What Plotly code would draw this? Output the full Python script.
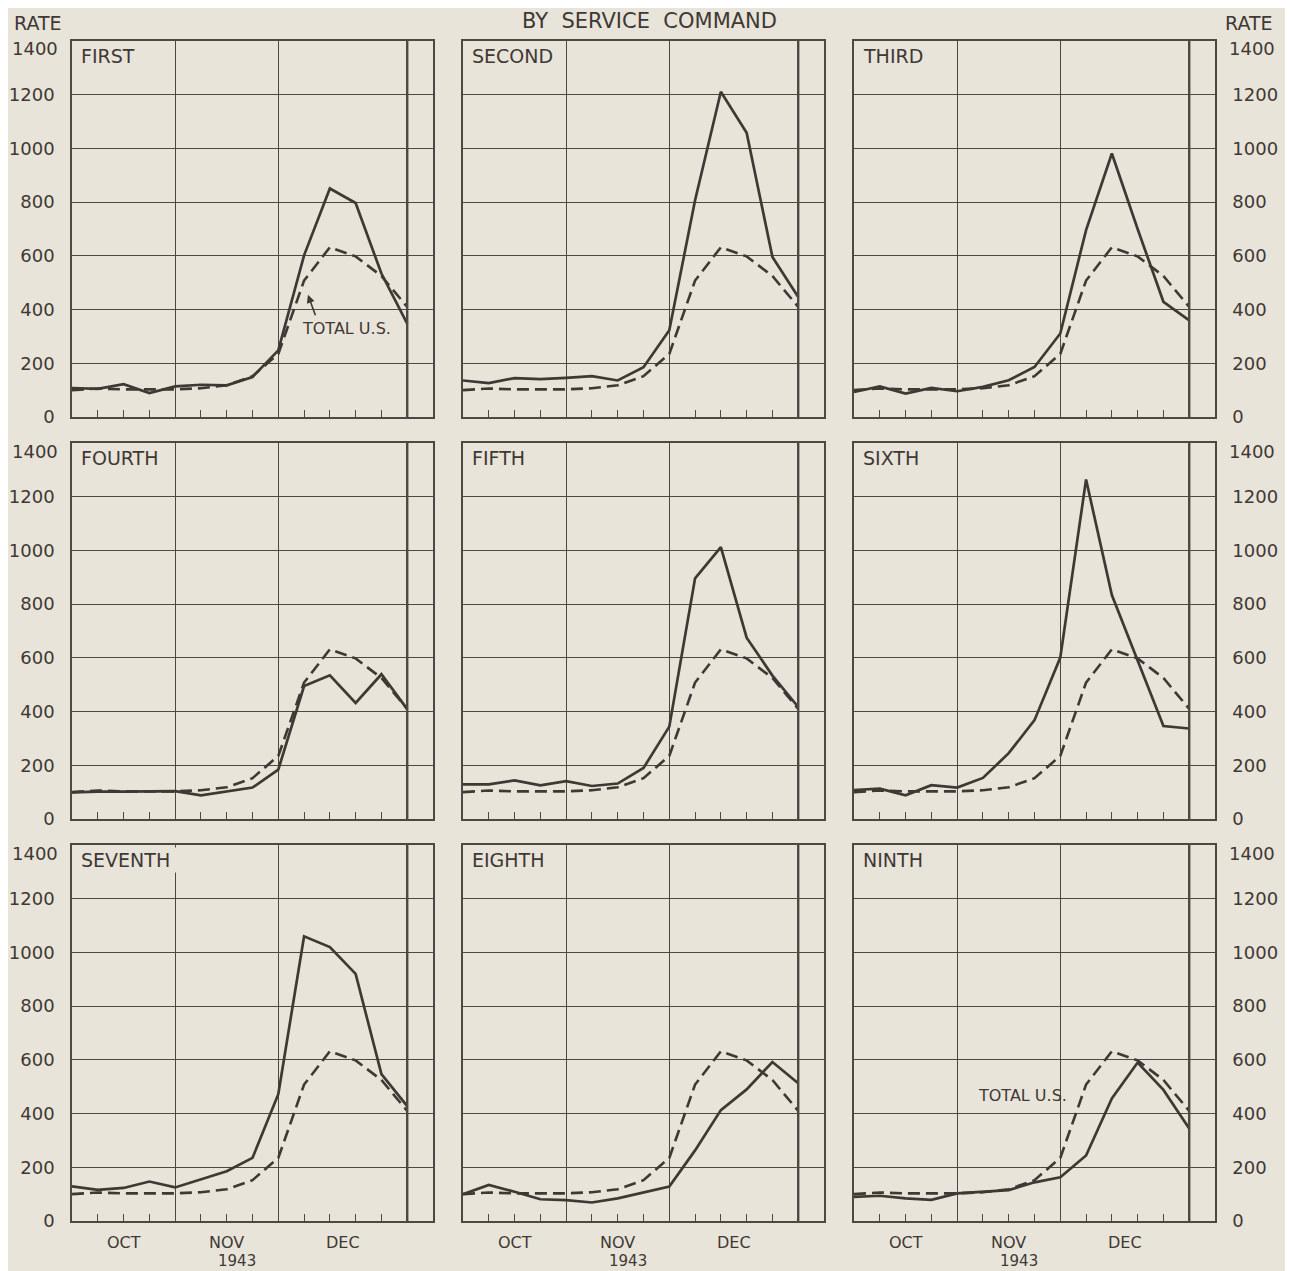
import plotly.graph_objects as go

# ---------------- data ----------------
weeks = list(range(14))
commands = ["FIRST", "SECOND", "THIRD", "FOURTH", "FIFTH", "SIXTH",
            "SEVENTH", "EIGHTH", "NINTH"]

total_us = [100, 106, 103, 103, 103, 107, 118, 152, 235, 508, 632, 598, 525, 410]

first = [108, 105, 122, 89, 114, 120, 118, 149, 248, 602, 851, 797, 534, 348]
second = [136, 126, 145, 141, 146, 152, 136, 185, 323, 807, 1211, 1058, 596, 447]
third = [93, 114, 87, 108, 96, 112, 137, 186, 311, 696, 981, 700, 429, 360]
fourth = [99, 102, 102, 102, 104, 88, 102, 117, 184, 495, 535, 432, 539, 409]
fifth = [129, 129, 144, 125, 141, 123, 132, 190, 344, 896, 1012, 675, 534, 417]
sixth = [108, 113, 88, 126, 117, 153, 245, 368, 601, 1264, 834, 590, 346, 337]
seventh = [129, 116, 123, 147, 125, 154, 185, 235, 472, 1060, 1020, 920, 547, 428]
eighth = [100, 134, 109, 81, 78, 69, 84, 106, 128, 263, 413, 490, 592, 513]
ninth = [90, 94, 84, 79, 103, 109, 115, 144, 163, 244, 456, 590, 488, 344]

series = [first, second, third, fourth, fifth, sixth, seventh, eighth, ninth]

y_ticks = list(range(0, 1401, 200))
y_ticktext = [str(v) for v in y_ticks[:-1]] + [""]   # top label placed separately
top_label = "1400"
month_labels = ["OCT", "NOV", "DEC"]
month_pos = [2.0, 6.0, 10.5]
year_label = "1943"
year_pos = 6.4

# ---------------- style ----------------
OX, OY = 8, 8            # page offset of the plot div
W, H = 1293 - OX, 1271 - OY
BG = "#e8e4d9"
INK = "#3f3834"
GRID = "#4e4743"
FONT = "DejaVu Sans"
TICK_SIZE = 18

col_left = [72, 463, 854]
col_w = 361
row_top = [41, 443, 845]
row_h = 376


def px(x):
    return (x - OX) / W


def py(y):
    return 1 - (y - OY) / H


fig = go.Figure()
annotations = []
shapes = []

for i, (name, vals) in enumerate(zip(commands, series)):
    r, c = divmod(i, 3)
    xn = "x" if i == 0 else f"x{i+1}"
    yn = "y" if i == 0 else f"y{i+1}"
    xk = "xaxis" if i == 0 else f"xaxis{i+1}"
    yk = "yaxis" if i == 0 else f"yaxis{i+1}"

    xd = [px(col_left[c]), px(col_left[c] + col_w)]
    yd = [py(row_top[r] + row_h), py(row_top[r])]

    fig.add_trace(go.Scatter(x=weeks, y=total_us, mode="lines", xaxis=xn, yaxis=yn,
                             line=dict(color=INK, width=2.6, dash="12px,6px"),
                             hoverinfo="skip"))
    fig.add_trace(go.Scatter(x=weeks, y=vals, mode="lines", xaxis=xn, yaxis=yn,
                             line=dict(color=INK, width=2.7), hoverinfo="skip"))

    fig.layout[xk] = dict(
        domain=xd, range=[0, 14], anchor=yn, automargin=False,
        tickvals=[4, 8], ticks="", showticklabels=False,
        showgrid=True, gridcolor=GRID, gridwidth=1.4,
        showline=True, mirror=True, linecolor=GRID, linewidth=1.5,
        zeroline=False, fixedrange=True,
        minor=dict(tickvals=list(range(1, 14)), ticks="inside", ticklen=7,
                   tickwidth=1.4, tickcolor=GRID, showgrid=False),
    )
    fig.layout[yk] = dict(
        domain=yd, range=[0, 1400], anchor=xn, automargin=False,
        tickvals=y_ticks, ticktext=y_ticktext, ticks="", showticklabels=(c != 1),
        side="left" if c == 0 else "right",
        ticklabelstandoff=12,
        tickfont=dict(family=FONT, size=TICK_SIZE, color=INK),
        showgrid=True, gridcolor=GRID, gridwidth=1.4,
        zeroline=True, zerolinecolor=GRID, zerolinewidth=2.6,
        showline=True, mirror=True, linecolor=GRID, linewidth=1.5,
        fixedrange=True,
    )

    # top value label, set a little lower as in the original
    if c != 1:
        annotations.append(dict(
            xref=f"{xn} domain", yref=yn, x=0 if c == 0 else 1, y=1400,
            xanchor="right" if c == 0 else "left", yanchor="middle",
            xshift=-12 if c == 0 else 12, yshift=-8,
            text=top_label, showarrow=False,
            font=dict(family=FONT, size=TICK_SIZE, color=INK)))

    # heavy line at end of data
    shapes.append(dict(type="line", xref=xn, yref=f"{yn} domain", x0=13, x1=13,
                       y0=0, y1=1, line=dict(color=GRID, width=2.4)))

    # panel label
    label = name + ("\u00a0\u00a0" if name == "SEVENTH" else "")
    annotations.append(dict(
        xref=f"{xn} domain", yref=f"{yn} domain", x=0.019, y=0.96,
        xanchor="left", yanchor="middle", text=label, showarrow=False,
        font=dict(family=FONT, size=19, color=INK),
        bgcolor=BG if name == "SEVENTH" else None, borderpad=1))

    # month labels on the bottom row
    if r == 2:
        for m, p in zip(month_labels, month_pos):
            annotations.append(dict(
                xref=xn, yref="paper", x=p, y=py(1242),
                xanchor="center", yanchor="middle", text=m, showarrow=False,
                font=dict(family=FONT, size=16, color=INK)))
        annotations.append(dict(
            xref=xn, yref="paper", x=year_pos, y=py(1261),
            xanchor="center", yanchor="middle", text=year_label, showarrow=False,
            font=dict(family=FONT, size=15, color=INK)))

# "TOTAL U.S." notes
annotations.append(dict(xref="x", yref="y", x=10.66, y=331, text="TOTAL U.S.",
                        showarrow=False, font=dict(family=FONT, size=16, color=INK)))
annotations.append(dict(xref="x", yref="y", x=9.15, y=455, text="", showarrow=True,
                        ax=8, ay=22, arrowhead=2, arrowsize=1, arrowwidth=1.6,
                        arrowcolor=INK))
annotations.append(dict(xref="x9", yref="y9", x=6.54, y=469, text="TOTAL U.S.",
                        showarrow=False, font=dict(family=FONT, size=16, color=INK)))

# titles
annotations.append(dict(xref="paper", yref="paper", x=px(649), y=py(21),
                        text="BY  SERVICE  COMMAND", showarrow=False,
                        xanchor="center", yanchor="middle",
                        font=dict(family=FONT, size=21, color=INK)))
annotations.append(dict(xref="paper", yref="paper", x=px(38), y=py(23),
                        text="RATE", showarrow=False, xanchor="center", yanchor="middle",
                        font=dict(family=FONT, size=19, color=INK)))
annotations.append(dict(xref="paper", yref="paper", x=px(1249), y=py(23),
                        text="RATE", showarrow=False, xanchor="center", yanchor="middle",
                        font=dict(family=FONT, size=19, color=INK)))

fig.update_layout(
    width=W, height=H,
    margin=dict(l=0, r=0, t=0, b=0, pad=0, autoexpand=False),
    paper_bgcolor=BG, plot_bgcolor=BG, showlegend=False,
    annotations=annotations, shapes=shapes,
)

fig.write_html("out.html")
